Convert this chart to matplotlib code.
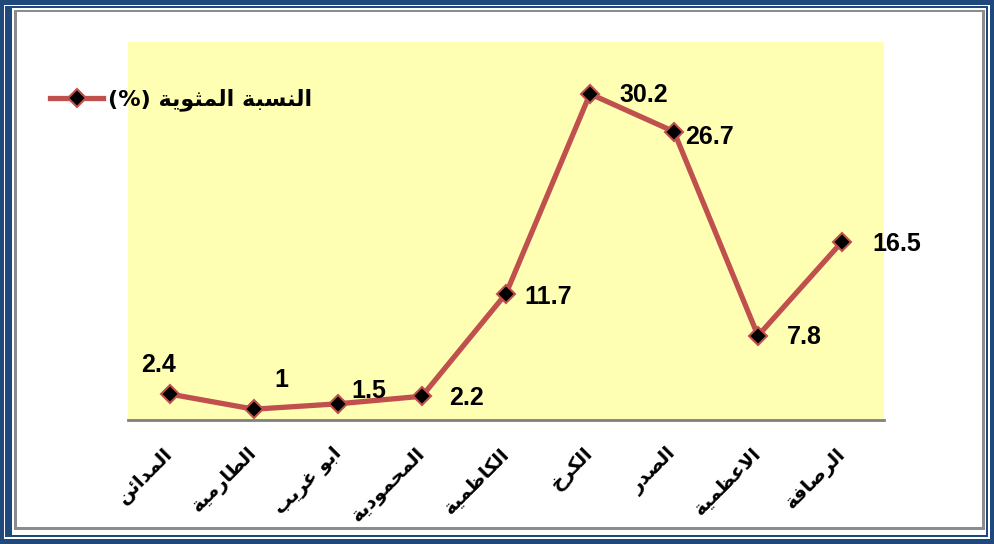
import matplotlib
matplotlib.use('Agg')
import matplotlib.pyplot as plt
from matplotlib.patches import Rectangle

# Data
districts = ['المدائن', 'الطارمية', 'ابو غريب', 'المحمودية', 'الكاظمية',
             'الكرخ', 'الصدر', 'الاعظمية', 'الرصافة']
percent = [2.4, 1, 1.5, 2.2, 11.7, 30.2, 26.7, 7.8, 16.5]
value_labels = ['2.4', '1', '1.5', '2.2', '11.7', '30.2', '26.7', '7.8', '16.5']
series_name = 'النسبة المثوية (%)'

# label offsets in pixels (dx, dy up), placement only
_label_offsets = [(-11, 29), (27, 29), (31, 13), (45, -2), (42, -3),
                  (54, -1), (35, -5), (46, -1), (55, -2)]

LINE_RED = '#C0504D'
FRAME_BLUE = '#1F497D'
PLOT_YELLOW = '#FFFFB3'

######################################################################
# minimal Arabic shaping (matplotlib has no complex text layout)

_forms = {
    'ا': ('\uFE8D', '\uFE8E', None, None),
    'ب': ('\uFE8F', '\uFE90', '\uFE91', '\uFE92'),
    'ة': ('\uFE93', '\uFE94', None, None),
    'ث': ('\uFE99', '\uFE9A', '\uFE9B', '\uFE9C'),
    'ح': ('\uFEA1', '\uFEA2', '\uFEA3', '\uFEA4'),
    'خ': ('\uFEA5', '\uFEA6', '\uFEA7', '\uFEA8'),
    'د': ('\uFEA9', '\uFEAA', None, None),
    'ر': ('\uFEAD', '\uFEAE', None, None),
    'س': ('\uFEB1', '\uFEB2', '\uFEB3', '\uFEB4'),
    'ص': ('\uFEB9', '\uFEBA', '\uFEBB', '\uFEBC'),
    'ط': ('\uFEC1', '\uFEC2', '\uFEC3', '\uFEC4'),
    'ظ': ('\uFEC5', '\uFEC6', '\uFEC7', '\uFEC8'),
    'ع': ('\uFEC9', '\uFECA', '\uFECB', '\uFECC'),
    'غ': ('\uFECD', '\uFECE', '\uFECF', '\uFED0'),
    'ف': ('\uFED1', '\uFED2', '\uFED3', '\uFED4'),
    'ك': ('\uFED9', '\uFEDA', '\uFEDB', '\uFEDC'),
    'ل': ('\uFEDD', '\uFEDE', '\uFEDF', '\uFEE0'),
    'م': ('\uFEE1', '\uFEE2', '\uFEE3', '\uFEE4'),
    'ن': ('\uFEE5', '\uFEE6', '\uFEE7', '\uFEE8'),
    'و': ('\uFEED', '\uFEEE', None, None),
    'ي': ('\uFEF1', '\uFEF2', '\uFEF3', '\uFEF4'),
    'ئ': ('\uFE89', '\uFE8A', '\uFE8B', '\uFE8C'),
}


def shape(text):
    """Join Arabic letters into presentation forms, return visual order."""
    out = []
    i = 0
    while i < len(text):
        c = text[i]
        if c not in _forms:
            out.append(c)
            i += 1
            continue
        prev = text[i - 1] if i > 0 else None
        joins_prev = prev in _forms and _forms[prev][2] is not None
        if c == 'ل' and i + 1 < len(text) and text[i + 1] == 'ا':
            out.append('\uFEFC' if joins_prev else '\uFEFB')
            i += 2
            continue
        nxt = text[i + 1] if i + 1 < len(text) else None
        iso, fin, ini, med = _forms[c]
        joins_next = ini is not None and nxt in _forms
        if joins_prev and joins_next:
            out.append(med)
        elif joins_prev:
            out.append(fin)
        elif joins_next:
            out.append(ini)
        else:
            out.append(iso)
        i += 1
    visual = ''.join(reversed(out))
    return visual.translate(str.maketrans('()', ')('))


######################################################################

W, H = 994, 544
fig = plt.figure(figsize=(W / 100, H / 100), dpi=100)
fig.patch.set_facecolor('white')


def frame(left, top, right, bottom, color):
    # rectangle given by pixel edges (from the top-left corner)
    fig.patches.append(Rectangle((left / W, 1 - bottom / H), (right - left) / W,
                                 (bottom - top) / H, transform=fig.transFigure,
                                 facecolor=color, edgecolor='none', zorder=-10))


frame(0, 0, 994, 544, FRAME_BLUE)
frame(4, 5, 990, 539, 'white')
frame(5, 6, 988, 537, FRAME_BLUE)
frame(12, 8, 986, 535, 'white')
frame(14, 10, 985, 530, '#8C8C8C')
frame(17, 12, 982, 527, 'white')

ax = fig.add_axes([128 / W, 1 - 420 / H, 756 / W, 378 / H])
ax.set_facecolor(PLOT_YELLOW)

x = list(range(len(districts)))
ax.plot(x, percent, color=LINE_RED, linewidth=3.8, marker='D', markersize=9.5,
        markerfacecolor='black', markeredgecolor=LINE_RED, markeredgewidth=1.5,
        label=shape(series_name), solid_joinstyle='round', zorder=3)

for xi, yi, txt, (dx, dy) in zip(x, percent, value_labels, _label_offsets):
    ax.annotate(txt, (xi, yi), xytext=(dx * 0.72, dy * 0.72),
                textcoords='offset points', ha='center', va='center',
                fontsize=18, fontweight='bold', family='Liberation Sans',
                color='black')

ax.set_xlim(-0.5, len(districts) - 0.5)
ax.set_ylim(0, 35)
ax.set_yticks([])
ax.set_xticks(x)
ax.set_xticklabels([shape(d) for d in districts], rotation=45, ha='right',
                   va='center', rotation_mode='anchor', fontsize=14,
                   fontweight='bold', family='DejaVu Sans')
ax.tick_params(axis='x', length=0, pad=22)
for side in ('left', 'right', 'top'):
    ax.spines[side].set_visible(False)
ax.spines['bottom'].set_color('#808080')
ax.spines['bottom'].set_linewidth(2)

fig.legend(loc='center left', bbox_to_anchor=(50 / W, 1 - 100 / H),
           frameon=False, borderpad=0, borderaxespad=0, handletextpad=0.2,
           handlelength=2.4, prop={'family': 'DejaVu Sans', 'weight': 'bold',
                                   'size': 16})

fig.savefig('out.png', dpi=100, facecolor=fig.get_facecolor())
